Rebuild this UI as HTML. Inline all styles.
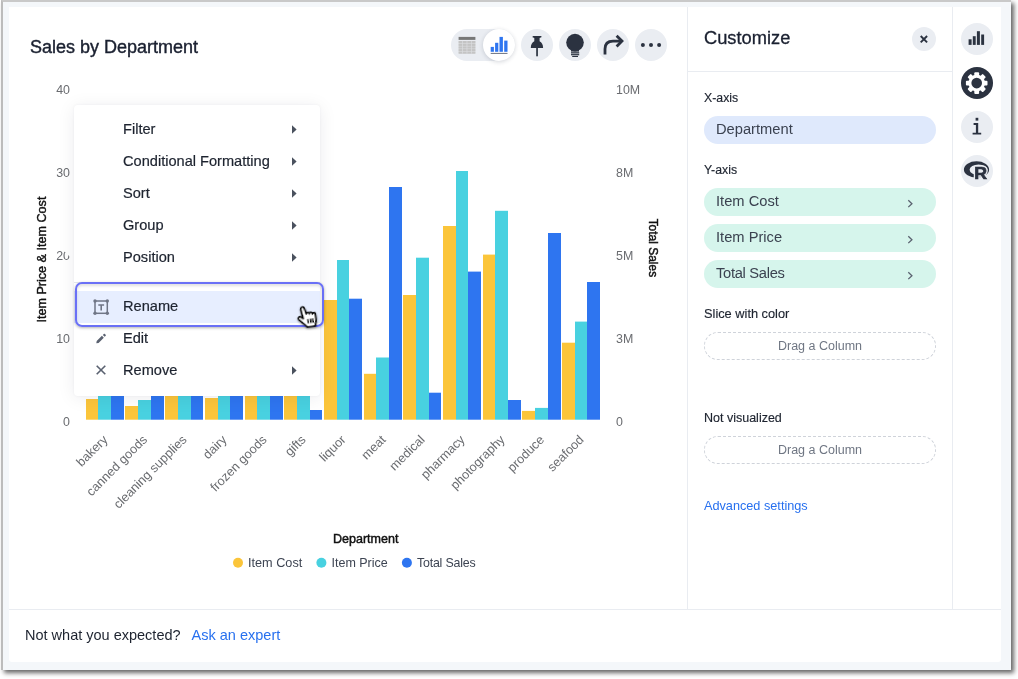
<!DOCTYPE html>
<html lang="en">
<head>
<meta charset="utf-8">
<title>Sales by Department</title>
<style>
*{box-sizing:border-box;margin:0;padding:0}
html,body{width:1018px;height:679px;overflow:hidden;background:#fff}
body{font-family:"Liberation Sans",sans-serif;color:#1d232f;position:relative}
.frame{position:absolute;left:1px;top:0;width:1010px;height:670px;background:#f4f7fa;border-top:2px solid #c9c9c9;border-left:2px solid #bcbcbc;box-shadow:3px 3px 4.500px 0 rgba(0,0,0,.6)}
.card{position:absolute;left:9px;top:7px;width:992px;height:655px;background:#fff;border-radius:0 0 3px 3px}
.abs{position:absolute}
.title{left:30px;top:36px;font-size:18px;line-height:22px;white-space:nowrap;color:#1a2030;-webkit-text-stroke:.4px #1a2030}
.vline{background:#e9ecf1;width:1px}
.hline{background:#e9ecf1;height:1px}
.circ{position:absolute;width:32px;height:32px;border-radius:50%;background:#eaedf2}
svg{position:absolute;left:0;top:0;overflow:visible}
.ax{font-size:12.4px;fill:#6a6c70;font-family:"Liberation Sans",sans-serif}
.lbl{font-size:12.300px;line-height:16px;color:#1d232f;white-space:nowrap;-webkit-text-stroke:.15px #1d232f}
.pill{position:absolute;left:704px;width:232px;height:28px;border-radius:14px;font-size:14.700px;line-height:27px;padding-left:12px;color:#3b4250;white-space:nowrap}
.pill.b{background:#dfe9fc}
.pill.g{background:#d6f5ec}
.pill.d{border:1px dashed #cfd3da;background:#fff;text-align:center;padding:0;font-size:12.5px;line-height:26px;color:#6f7683}
.menu{position:absolute;left:74px;top:105px;width:246px;height:291px;background:#fff;border-radius:4px;box-shadow:0 2px 18px rgba(20,30,50,.08),0 0 3px rgba(20,30,50,.05)}
.mi{position:absolute;left:0;width:246px;height:32px;line-height:33px;font-size:14.6px;color:#1d232f;-webkit-text-stroke:.2px #1d232f;padding-left:49px;white-space:nowrap}
.mi.h{background:#e7eeff}
.hl{position:absolute;left:75px;top:282px;width:249px;height:45px;border:2.4px solid #6a70f6;border-radius:7px;box-shadow:0 1px 3px rgba(0,0,0,.3), inset 0 2px 3px rgba(0,0,0,.12)}
.foot{left:25px;top:626px;font-size:14.5px;line-height:18px;white-space:nowrap;color:#1d232f}
.foot a{color:#2770ef;text-decoration:none;margin-left:7px}
.leg{font-size:12.5px;line-height:14px;color:#3d4452;white-space:nowrap}
</style>
</head>
<body>
<div class="frame"></div>
<div class="card"></div>

<!-- header -->
<div class="abs title">Sales by Department</div>

<!-- toggle + toolbar -->
<div class="abs" style="left:451px;top:29px;width:64px;height:32px;border-radius:16px;background:#eaedf2"></div>
<div class="abs" style="left:483px;top:29px;width:32px;height:32px;border-radius:50%;background:#fff;box-shadow:0 1px 4px rgba(30,40,60,.18)"></div>
<div class="circ" style="left:521px;top:29px"></div>
<div class="circ" style="left:559px;top:29px"></div>
<div class="circ" style="left:597px;top:29px"></div>
<div class="circ" style="left:635px;top:29px"></div>

<svg width="1018" height="679" viewBox="0 0 1018 679">
  <!-- table icon -->
  <g>
    <rect x="458.6" y="36.9" width="16.8" height="3" fill="#777"/>
    <rect x="458.600" y="40.900" width="16.800" height="12.800" fill="#dfe0e2"/>
    <g fill="#c4c4c4">
      <rect x="458.600" y="41" width="16.800" height="2.200"/>
      <rect x="458.600" y="43.700" width="16.800" height="2.200"/>
      <rect x="458.600" y="46.400" width="16.800" height="2.200"/>
      <rect x="458.600" y="49.100" width="16.800" height="2.200"/>
      <rect x="458.600" y="51.800" width="16.800" height="1.900"/>
    </g>
    <g fill="#dcdde0">
      <rect x="462.100" y="40.900" width=".700" height="12.800"/>
      <rect x="466.600" y="40.900" width=".700" height="12.800"/>
      <rect x="471.200" y="40.900" width=".700" height="12.800"/>
    </g>
  </g>
  <!-- chart icon -->
  <g fill="#2e75f0">
    <rect x="490.7" y="46.9" width="3.2" height="4.9"/>
    <rect x="495.1" y="42.8" width="3.2" height="9"/>
    <rect x="499.5" y="36.9" width="3.4" height="14.9"/>
    <rect x="504.2" y="40.6" width="3.3" height="11.2"/>
  </g>
  <rect x="490.7" y="52.9" width="16.8" height="1" fill="#6a7080"/>
  <!-- pin -->
  <g fill="#2b3240">
    <path d="M532.800 35.900h8.600v1.300l-1.800 .700v3.400c2.100 .900 3.500 3.200 3.500 6.700h-12.300c0-3.500 1.400-5.800 3.500-6.700v-3.400l-1.800-.700z"/>
    <rect x="536.2" y="48" width="1.7" height="8.300"/>
  </g>
  <!-- bulb -->
  <g fill="#2b3240">
    <circle cx="575" cy="42.600" r="8.800"/>
    <rect x="571" y="48" width="8" height="3.600"/>
    <rect x="571" y="52.200" width="8.200" height="1.300"/>
    <rect x="571" y="54.100" width="8.200" height="1.200"/>
    <rect x="572.200" y="55.900" width="5.800" height="1.100"/>
  </g>
  <!-- share arrow -->
  <g fill="none" stroke="#2b3240" stroke-width="2.800">
    <path d="M605 54.400v-5.400c0-5 3-7.900 8-7.900h8"/>
    <path d="M616.600 35.700l5.400 5.400-5.400 5.400"/>
  </g>
  <!-- dots -->
  <g fill="#2b3240"><circle cx="642.900" cy="45" r="2"/><circle cx="651" cy="45" r="2"/><circle cx="659.100" cy="45" r="2"/></g>
</svg>

<!-- chart -->
<svg width="1018" height="679" viewBox="0 0 1018 679">
<rect x="86" y="399.0" width="12" height="20.7" fill="#fbc53a"/>
<rect x="98" y="380.0" width="13" height="39.7" fill="#48d1e0"/>
<rect x="111" y="330.0" width="13" height="89.7" fill="#2e75f0"/>
<rect x="125" y="406.0" width="13" height="13.7" fill="#fbc53a"/>
<rect x="138" y="400.0" width="13" height="19.7" fill="#48d1e0"/>
<rect x="151" y="385.0" width="13" height="34.7" fill="#2e75f0"/>
<rect x="165" y="390.0" width="13" height="29.7" fill="#fbc53a"/>
<rect x="178" y="370.0" width="13" height="49.7" fill="#48d1e0"/>
<rect x="191" y="350.0" width="12" height="69.7" fill="#2e75f0"/>
<rect x="205" y="398.0" width="13" height="21.7" fill="#fbc53a"/>
<rect x="218" y="375.0" width="12" height="44.7" fill="#48d1e0"/>
<rect x="230" y="340.0" width="13" height="79.7" fill="#2e75f0"/>
<rect x="245" y="385.0" width="12" height="34.7" fill="#fbc53a"/>
<rect x="257" y="360.0" width="13" height="59.7" fill="#48d1e0"/>
<rect x="270" y="345.0" width="13" height="74.7" fill="#2e75f0"/>
<rect x="284" y="380.0" width="13" height="39.7" fill="#fbc53a"/>
<rect x="297" y="350.0" width="13" height="69.7" fill="#48d1e0"/>
<rect x="310" y="410.0" width="12" height="9.7" fill="#2e75f0"/>
<rect x="324" y="300.0" width="13" height="119.7" fill="#fbc53a"/>
<rect x="337" y="260.0" width="12" height="159.7" fill="#48d1e0"/>
<rect x="349" y="298.7" width="13" height="121.0" fill="#2e75f0"/>
<rect x="364" y="373.8" width="12" height="45.9" fill="#fbc53a"/>
<rect x="376" y="357.5" width="13" height="62.2" fill="#48d1e0"/>
<rect x="389" y="187.0" width="13" height="232.7" fill="#2e75f0"/>
<rect x="403" y="295.0" width="13" height="124.7" fill="#fbc53a"/>
<rect x="416" y="257.7" width="13" height="162.0" fill="#48d1e0"/>
<rect x="429" y="392.7" width="12" height="27.0" fill="#2e75f0"/>
<rect x="443" y="226.0" width="13" height="193.7" fill="#fbc53a"/>
<rect x="456" y="171.0" width="12" height="248.7" fill="#48d1e0"/>
<rect x="468" y="271.6" width="13" height="148.1" fill="#2e75f0"/>
<rect x="483" y="254.6" width="12" height="165.1" fill="#fbc53a"/>
<rect x="495" y="210.8" width="13" height="208.9" fill="#48d1e0"/>
<rect x="508" y="400.0" width="13" height="19.7" fill="#2e75f0"/>
<rect x="522" y="410.9" width="13" height="8.8" fill="#fbc53a"/>
<rect x="535" y="407.9" width="13" height="11.8" fill="#48d1e0"/>
<rect x="548" y="233.0" width="13" height="186.7" fill="#2e75f0"/>
<rect x="562" y="342.7" width="13" height="77.0" fill="#fbc53a"/>
<rect x="575" y="321.6" width="12" height="98.1" fill="#48d1e0"/>
<rect x="587" y="282.0" width="13" height="137.7" fill="#2e75f0"/>
<text x="70" y="94.1" text-anchor="end" class="ax">40</text>
<text x="616" y="94.1" class="ax">10M</text>
<text x="70" y="177.1" text-anchor="end" class="ax">30</text>
<text x="616" y="177.1" class="ax">8M</text>
<text x="70" y="260.1" text-anchor="end" class="ax">20</text>
<text x="616" y="260.1" class="ax">5M</text>
<text x="70" y="343.1" text-anchor="end" class="ax">10</text>
<text x="616" y="343.1" class="ax">3M</text>
<text x="70" y="426.1" text-anchor="end" class="ax">0</text>
<text x="616" y="426.1" class="ax">0</text>
<text x="108.5" y="440.4" text-anchor="end" transform="rotate(-45 108.5 440.4)" class="ax" style="font-size:12.700px">bakery</text>
<text x="148.0" y="440.4" text-anchor="end" transform="rotate(-45 148.0 440.4)" class="ax" style="font-size:12.700px">canned goods</text>
<text x="187.5" y="440.4" text-anchor="end" transform="rotate(-45 187.5 440.4)" class="ax" style="font-size:12.700px">cleaning supplies</text>
<text x="227.5" y="440.4" text-anchor="end" transform="rotate(-45 227.5 440.4)" class="ax" style="font-size:12.700px">dairy</text>
<text x="267.5" y="440.4" text-anchor="end" transform="rotate(-45 267.5 440.4)" class="ax" style="font-size:12.700px">frozen goods</text>
<text x="306.5" y="440.4" text-anchor="end" transform="rotate(-45 306.5 440.4)" class="ax" style="font-size:12.700px">gifts</text>
<text x="346.5" y="440.4" text-anchor="end" transform="rotate(-45 346.5 440.4)" class="ax" style="font-size:12.700px">liquor</text>
<text x="386.5" y="440.4" text-anchor="end" transform="rotate(-45 386.5 440.4)" class="ax" style="font-size:12.700px">meat</text>
<text x="425.5" y="440.4" text-anchor="end" transform="rotate(-45 425.5 440.4)" class="ax" style="font-size:12.700px">medical</text>
<text x="465.5" y="440.4" text-anchor="end" transform="rotate(-45 465.5 440.4)" class="ax" style="font-size:12.700px">pharmacy</text>
<text x="505.5" y="440.4" text-anchor="end" transform="rotate(-45 505.5 440.4)" class="ax" style="font-size:12.700px">photography</text>
<text x="545.0" y="440.4" text-anchor="end" transform="rotate(-45 545.0 440.4)" class="ax" style="font-size:12.700px">produce</text>
<text x="584.5" y="440.4" text-anchor="end" transform="rotate(-45 584.5 440.4)" class="ax" style="font-size:12.700px">seafood</text>
<text x="46.500" y="259.600" text-anchor="middle" transform="rotate(-90 46.500 259.600)" style="font-size:12.600px;fill:#111;font-family:'Liberation Sans',sans-serif;stroke:#111;stroke-width:.4px">Item Price &amp; Item Cost</text>
<text x="649.400" y="247.900" text-anchor="middle" textLength="58.500" lengthAdjust="spacingAndGlyphs" transform="rotate(90 649.400 247.900)" style="font-size:12.800px;fill:#111;font-family:'Liberation Sans',sans-serif;stroke:#111;stroke-width:.45px">Total Sales</text>
<text x="365.700" y="543.100" text-anchor="middle" textLength="65.500" lengthAdjust="spacingAndGlyphs" style="font-size:12.600px;fill:#111;font-family:'Liberation Sans',sans-serif;stroke:#111;stroke-width:.45px">Department</text>
<circle cx="238" cy="562.700" r="5" fill="#fbc53a"/>
<circle cx="321.400" cy="562.700" r="5" fill="#48d1e0"/>
<circle cx="406.900" cy="562.700" r="5" fill="#2e75f0"/>
</svg>
<div class="abs leg" style="left:248px;top:556px;font-size:12.700px">Item Cost</div>
<div class="abs leg" style="left:331.500px;top:556px">Item Price</div>
<div class="abs leg" style="left:417px;top:556px;letter-spacing:-.2px;font-size:12.400px">Total Sales</div>

<!-- context menu -->
<div class="abs" style="left:67px;top:243.500px;width:14px;height:14px;background:#fff;transform:rotate(45deg)"></div>
<div class="menu">
  <div class="mi" style="top:8px">Filter</div>
  <div class="mi" style="top:40px">Conditional Formatting</div>
  <div class="mi" style="top:72px">Sort</div>
  <div class="mi" style="top:104px">Group</div>
  <div class="mi" style="top:136px">Position</div>
  <div class="abs hline" style="left:0;top:177px;width:246px;background:#e3e6eb"></div>
  <div class="abs" style="left:0;top:186px;width:245.500px;height:31.600px;background:#e7eeff"></div>
  <div class="mi" style="top:185px">Rename</div>
  <div class="mi" style="top:217px">Edit</div>
  <div class="mi" style="top:249px">Remove</div>
</div>
<div class="hl"></div>
<svg width="1018" height="679" viewBox="0 0 1018 679">
  <g fill="#4a515e">
    <path d="M292 125.200l4.600 4.300-4.600 4.300z"/>
    <path d="M292 157.200l4.600 4.300-4.600 4.300z"/>
    <path d="M292 189.200l4.600 4.300-4.600 4.300z"/>
    <path d="M292 221.200l4.600 4.300-4.600 4.300z"/>
    <path d="M292 253.200l4.600 4.300-4.600 4.300z"/>
    <path d="M292 366.200l4.600 4.300-4.600 4.300z"/>
  </g>
  <!-- rename icon -->
  <g fill="none" stroke="#707686" stroke-width="1.500">
    <rect x="95" y="301" width="12.300" height="12.300"/>
  </g>
  <g fill="#707686">
    <circle cx="95" cy="301" r="1.700"/><circle cx="107.300" cy="301" r="1.700"/><circle cx="95" cy="313.300" r="1.700"/><circle cx="107.300" cy="313.300" r="1.700"/>
    <path d="M98.300 304.300h5.800v1.500h-2.100v4.700h-1.600v-4.700h-2.100z"/>
  </g>
  <!-- edit pencil -->
  <path d="M96.300 343.300l.4-2.300 5.200-5.200 1.900 1.900-5.200 5.200zM102.800 334.900l1-1c.3-.3.700-.3 1 0l.9.900c.3.300.3.700 0 1l-1 1z" fill="#5a6170"/>
  <!-- remove x -->
  <path d="M96.700 365.700l8.600 8.600M105.300 365.700l-8.600 8.600" stroke="#5a6170" stroke-width="1.600" fill="none"/>
  <defs><filter id="cs" x="-30%" y="-30%" width="170%" height="170%"><feDropShadow dx="0" dy="1" stdDeviation="0.900" flood-color="#000" flood-opacity=".45"/></filter></defs>
  <!-- cursor hand -->
  <g transform="translate(297.300 306.000) rotate(-8 9 11)" filter="url(#cs)">
    <path d="M4.600 2.800a1.800 1.800 0 0 1 3.500-.8L9.400 8a1.600 1.600 0 0 1 3.100 .3a1.500 1.500 0 0 1 3 .5a1.400 1.400 0 0 1 2.800 .9V14.500C18.300 17 17 18.500 16.600 21H8.500C8 19 5 17 3.500 15L1.300 12.600a1.600 1.600 0 0 1 2.400-2.100L5.800 12.300z" fill="#fff" stroke="#000" stroke-width="1.700" stroke-linejoin="round"/>
    <path d="M10.300 13.200v4.300M12.800 13.200v4.300M15.200 13.200v4.300" stroke="#000" stroke-width="1.600"/>
  </g>
</svg>

<!-- right panel -->
<div class="abs vline" style="left:687px;top:7px;height:602px"></div>
<div class="abs vline" style="left:952px;top:7px;height:602px"></div>
<div class="abs hline" style="left:687px;top:71px;width:266px"></div>
<div class="abs hline" style="left:9px;top:609px;width:992px"></div>

<div class="abs" style="left:704px;top:27px;font-size:18.300px;line-height:22px;color:#1a2030;-webkit-text-stroke:.3px #1a2030">Customize</div>
<div class="abs" style="left:912px;top:27px;width:24px;height:24px;border-radius:50%;background:#eaedf2"></div>
<svg width="1018" height="679" viewBox="0 0 1018 679">
  <path d="M920.700 36l6.400 6.400M927.100 36l-6.400 6.400" stroke="#2b3240" stroke-width="1.900" fill="none"/>
</svg>

<div class="abs lbl" style="left:704px;top:90px">X-axis</div>
<div class="pill b" style="top:116px">Department</div>
<div class="abs lbl" style="left:704px;top:162px">Y-axis</div>
<div class="pill g" style="top:188px">Item Cost</div>
<div class="pill g" style="top:224px">Item Price</div>
<div class="pill g" style="top:260px;letter-spacing:-.3px">Total Sales</div>
<div class="abs lbl" style="left:704px;top:306px;font-size:12.800px">Slice with color</div>
<div class="pill d" style="top:332px">Drag a Column</div>
<div class="abs lbl" style="left:704px;top:410px;font-size:12.500px">Not visualized</div>
<div class="pill d" style="top:436px">Drag a Column</div>
<div class="abs" style="left:704px;top:498px;font-size:12.700px;line-height:16px;color:#2770ef;white-space:nowrap">Advanced settings</div>
<svg width="1018" height="679" viewBox="0 0 1018 679">
  <g fill="none" stroke="#5a6270" stroke-width="1.300">
    <path d="M908.300 200.300l3.600 3.400-3.600 3.400"/>
    <path d="M908.300 236.300l3.600 3.400-3.600 3.400"/>
    <path d="M908.300 272.300l3.600 3.400-3.600 3.400"/>
  </g>
</svg>

<!-- side rail -->
<div class="circ" style="left:960.700px;top:23px"></div>
<div class="circ" style="left:960.700px;top:67px;background:#2b3240"></div>
<div class="circ" style="left:960.700px;top:111px"></div>
<div class="circ" style="left:960.700px;top:155px"></div>
<svg width="1018" height="679" viewBox="0 0 1018 679">
  <g fill="#2b3240">
    <rect x="968.600" y="39.300" width="3" height="5.600"/>
    <rect x="972.800" y="36.200" width="2.900" height="8.700"/>
    <rect x="976.900" y="31.200" width="3" height="13.700"/>
    <rect x="981.200" y="34.500" width="2.900" height="10.400"/>
  </g>
  <!-- gear -->
  <g transform="translate(976.700 83.100)">
    <g fill="#fff">
      <circle r="8.300"/>
      <g id="t"><rect x="-2.400" y="-10.800" width="4.800" height="21.600" rx="1"/></g>
      <rect x="-2.400" y="-10.800" width="4.800" height="21.600" rx="1" transform="rotate(45)"/>
      <rect x="-2.400" y="-10.800" width="4.800" height="21.600" rx="1" transform="rotate(90)"/>
      <rect x="-2.400" y="-10.800" width="4.800" height="21.600" rx="1" transform="rotate(135)"/>
    </g>
    <circle r="5.300" fill="#2b3240"/>
  </g>
  <!-- info i -->
  <g fill="#2b3240">
    <rect x="975.600" y="117.800" width="2.700" height="2.800"/>
    <path d="M973.600 123.100h4.600v9.600h3v1.800h-8.600v-1.800h3.300v-7.800h-2.300z"/>
  </g>
  <!-- R logo -->
  <path fill-rule="evenodd" fill="#2b3240" d="M963.900 169.500a12.600 8.200 0 1 0 25.200 0a12.600 8.200 0 1 0 -25.200 0zM969.600 169.700a9 5.300 0 1 1 18 0a9 5.300 0 1 1 -18 0z"/>
  <g transform="translate(974.300 179) scale(1.080 1)">
    <text x="0" y="0" style="font-family:'Liberation Sans',sans-serif;font-weight:bold;font-size:16.400px;fill:#eaedf2;stroke:#eaedf2;stroke-width:3px;stroke-linejoin:round">R</text>
    <text x="0" y="0" style="font-family:'Liberation Sans',sans-serif;font-weight:bold;font-size:16.400px;fill:#2b3240;stroke:#2b3240;stroke-width:.700px">R</text>
  </g>
</svg>

<!-- footer -->
<div class="abs foot">Not what you expected? <a>Ask an expert</a></div>
</body>
</html>
